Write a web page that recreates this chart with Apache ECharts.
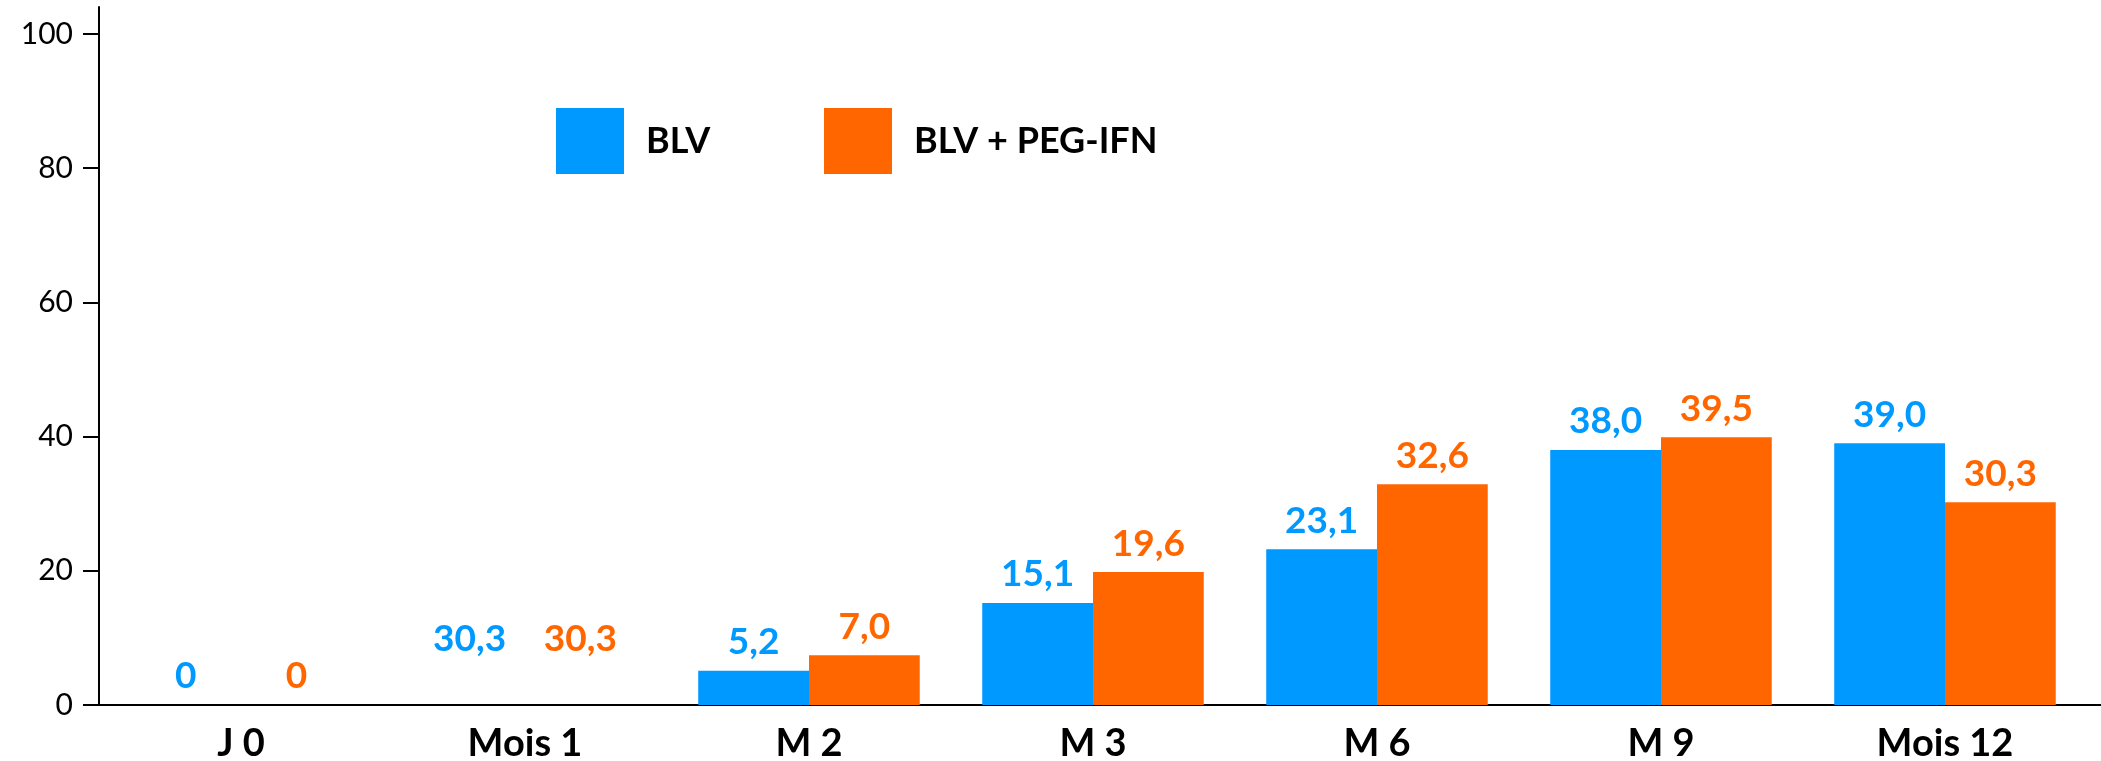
<!DOCTYPE html>
<html>
<head>
<meta charset="utf-8">
<script src="https://cdn.jsdelivr.net/npm/echarts@6/dist/echarts.min.js"></script>
<style>
  html, body { margin: 0; padding: 0; background: #fff; }
  #chart { width: 2101px; height: 761px; }
</style>
</head>
<body>
<div id="chart"></div>
<script>
const categories = ["J 0", "Mois 1", "M 2", "M 3", "M 6", "M 9", "Mois 12"];
const seriesNames = ["BLV", "BLV + PEG-IFN"];
const blvValues = [0, 0, 5.1, 15.2, 23.2, 38.0, 39.0];
const pegValues = [0, 0, 7.4, 19.8, 32.9, 39.9, 30.2];
const blvLabels = ["0", "30,3", "5,2", "15,1", "23,1", "38,0", "39,0"];
const pegLabels = ["0", "30,3", "7,0", "19,6", "32,6", "39,5", "30,3"];
const yTicks = [0, 20, 40, 60, 80, 100];

const BLUE = "#0099ff";
const ORANGE = "#ff6600";
const FONT = "Lato";
const W = 2101, H = 761;
const GRID = { left: 99, right: 14, top: 7, bottom: 56, outerBoundsMode: "none" };

const chart = echarts.init(document.getElementById("chart"));

// Mois 1 has no visible bars, its labels sit a bit higher than J 0's
function items(values, labels) {
  return values.map((v, i) => ({
    value: v,
    label: i === 1 ? { offset: [0, -37] } : {},
    labelText: labels[i],
  }));
}

function barSeries(name, values, labels, color) {
  return {
    name: name,
    type: "bar",
    barGap: 0,
    barCategoryGap: "22%",
    data: items(values, labels),
    itemStyle: { color: color },
    label: {
      show: true,
      position: "top",
      distance: 10,
      color: color,
      fontFamily: FONT,
      fontWeight: "bold",
      fontSize: 37,
      formatter: (p) => p.data.labelText,
    },
  };
}

function legendAt(left, name) {
  return {
    left: left,
    top: 108,
    padding: 0,
    itemWidth: 68,
    itemHeight: 66,
    icon: "rect",
    selectedMode: false,
    textStyle: {
      fontFamily: FONT,
      fontWeight: "bold",
      fontSize: 36,
      color: "#000",
      padding: [0, 0, 16, 17],
    },
    data: [name],
  };
}

chart.setOption({
  animation: false,
  textStyle: { fontFamily: FONT },
  legend: [legendAt(556, seriesNames[0]), legendAt(824, seriesNames[1])],
  grid: GRID,
  xAxis: {
    type: "category",
    data: categories,
    axisLine: { lineStyle: { color: "#000", width: 2 } },
    axisTick: { show: false },
    axisLabel: {
      color: "#000",
      fontFamily: FONT,
      fontWeight: "bold",
      fontSize: 38,
      margin: 20,
    },
  },
  yAxis: {
    type: "value",
    min: 0,
    max: 104,
    splitLine: { show: false },
    axisLine: { show: true, lineStyle: { color: "#000", width: 2 } },
    axisTick: {
      show: true,
      length: 16,
      customValues: yTicks,
      lineStyle: { color: "#000", width: 2 },
    },
    axisLabel: {
      color: "#000",
      fontFamily: FONT,
      fontSize: 30,
      margin: 26,
      customValues: yTicks,
    },
  },
  series: [
    barSeries(seriesNames[0], blvValues, blvLabels, BLUE),
    barSeries(seriesNames[1], pegValues, pegLabels, ORANGE),
  ],
});

// the baseline runs on a little past the last category
const baseY = chart.convertToPixel({ yAxisIndex: 0 }, 0);
chart.setOption({
  graphic: [{
    type: "line",
    shape: { x1: W - GRID.right - 1, y1: baseY, x2: W, y2: baseY },
    style: { stroke: "#000", lineWidth: 2 },
  }],
});
</script>
</body>
</html>
